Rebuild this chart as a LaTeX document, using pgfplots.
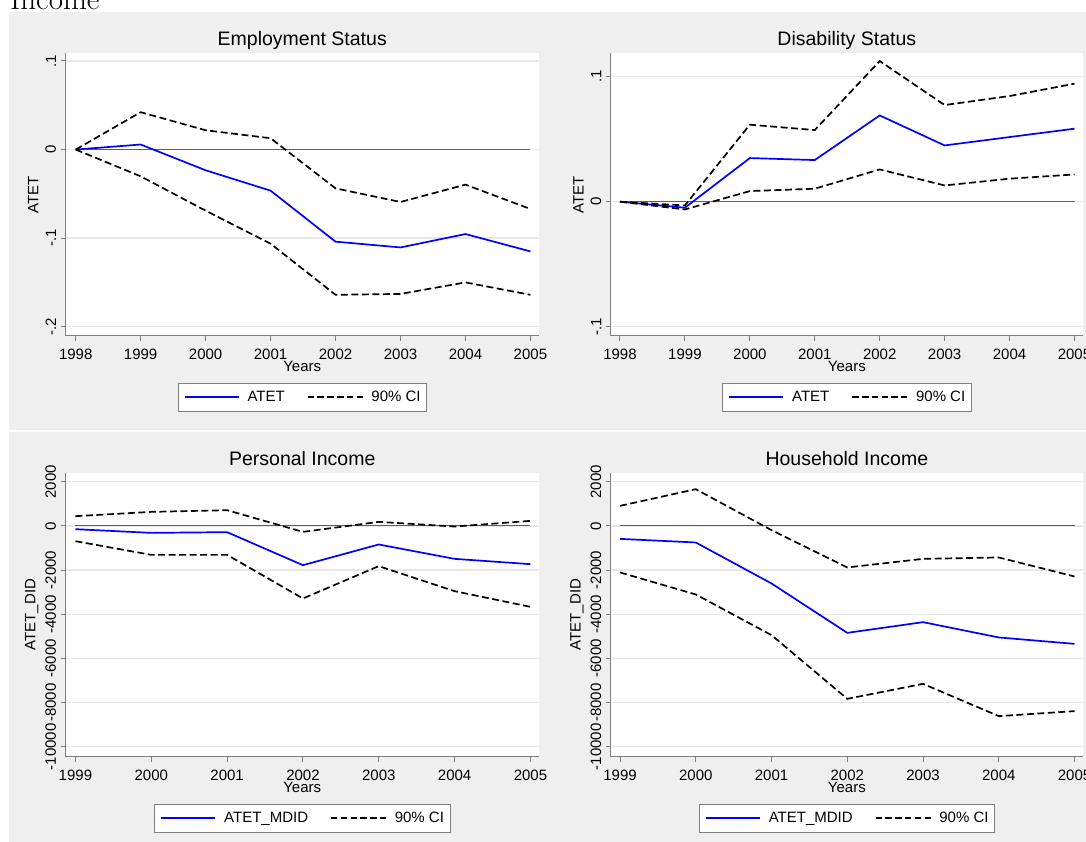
\documentclass[border=0pt]{standalone}
\usepackage{fontspec}
\usepackage{pgfplots}
\pgfplotsset{compat=1.18}
\newfontfamily\arial{Liberation Sans}
\definecolor{bggray}{RGB}{239,239,239}
\definecolor{axgray}{RGB}{128,128,128}
\definecolor{gridgray}{RGB}{232,232,232}
\definecolor{zerogray}{RGB}{95,95,95}
\definecolor{sblue}{RGB}{0,0,255}
\newcommand{\tickfont}{\arial\fontsize{15}{18}\selectfont}
\newcommand{\titlefont}{\arial\fontsize{19.5}{22}\selectfont}
\pgfplotsset{
  stata/.style={
    scale only axis,
    anchor=south west,
    axis background/.style={fill=white},
    axis x line*=bottom, axis y line*=left,
    axis line style={-, draw=axgray, line width=1pt},
    tick align=outside,
    major tick length=5pt,
    tick style={draw=axgray, line width=1pt},
    ymajorgrids,
    major grid style={draw=gridgray, line width=1.3pt},
    scaled y ticks=false, scaled x ticks=false,
    every tick label/.append style={font=\tickfont},
    yticklabel style={rotate=90, anchor=south, inner sep=0pt},
    yticklabel shift=4.2pt,
    xticklabel style={anchor=north, inner sep=0pt, yshift=-8pt},
    every axis title/.style={at={(axis description cs:0.5,1)}, anchor=base, inner sep=0pt, yshift=7.6pt, font=\titlefont},
    every axis x label/.style={at={(axis description cs:0.5,0)}, anchor=base, inner sep=0pt, yshift=-35.5pt, font=\tickfont},
    every axis y label/.style={at={(axis description cs:0,0.5)}, xshift=-27pt, rotate=90, anchor=south, inner sep=0pt, font=\tickfont},
    xlabel={Years},
    legend columns=2,
    legend style={at={(axis description cs:0.5,0)}, anchor=north, yshift=-47pt,
      draw=axgray, fill=white, inner xsep=6pt, inner ysep=8pt,
      font=\tickfont, nodes={inner sep=0pt},
      /tikz/every odd column/.append style={column sep=8pt},
      /tikz/every even column/.append style={column sep=22pt}},
  },
  est/.style={sblue, line width=1.7pt, solid,
    legend image code/.code={\draw[sblue, line width=1.7pt, solid] (0pt,0pt) -- (54pt,0pt);}},
  ci/.style={black, line width=1.7pt, dash pattern=on 7pt off 3.5pt,
    legend image code/.code={\draw[black, line width=1.7pt, dash pattern=on 6.5pt off 3.3pt] (0pt,0pt) -- (55pt,0pt);}},
  zl/.style={zerogray, line width=1pt, solid, forget plot},
}
\begin{document}
\begin{tikzpicture}[x=1pt,y=1pt]
\useasboundingbox (0,0) rectangle (1086,842);
\clip (0,0) rectangle (1086,842);
\fill[white] (0,0) rectangle (1086,842);
\fill[bggray] (8.5,412) rectangle (1086,830);
\fill[bggray] (8.5,0) rectangle (1086,410);
\node[anchor=base west, inner sep=0pt, font=\fontsize{31}{36}\selectfont] at (10,832) {Income};

% Panel 1: Employment Status
\begin{axis}[stata, at={(65.5pt,506pt)}, width=473.5pt, height=282.7pt,
  xmin=1997.843, xmax=2005.132, ymin=-0.2105, ymax=0.1087,
  xtick={1998,1999,2000,2001,2002,2003,2004,2005},
  xticklabels={1998,1999,2000,2001,2002,2003,2004,2005},
  ytick={-0.2,-0.1,0,0.1}, yticklabels={-.2,-.1,0,.1},
  title={Employment Status}, ylabel={ATET}]
\addplot[zl] coordinates {(1998,0) (2005,0)};
\addplot[est] coordinates {(1998,0) (1999,0.0057) (2000,-0.0234) (2001,-0.0464) (2002,-0.104) (2003,-0.1105) (2004,-0.0954) (2005,-0.115)};
\addlegendentry{ATET}
\addplot[ci] coordinates {(1998,0) (1999,0.0422) (2000,0.0218) (2001,0.0128) (2002,-0.0438) (2003,-0.0592) (2004,-0.0396) (2005,-0.0671)};
\addlegendentry{90\% CI}
\addplot[ci, forget plot] coordinates {(1998,0) (1999,-0.0302) (2000,-0.069) (2001,-0.1063) (2002,-0.164) (2003,-0.163) (2004,-0.150) (2005,-0.164)};
\end{axis}

% Panel 2: Disability Status
\begin{axis}[stata, at={(610.7pt,506pt)}, width=472.3pt, height=282.7pt,
  xmin=1997.857, xmax=2005.131, ymin=-0.1074, ymax=0.1187,
  xtick={1998,1999,2000,2001,2002,2003,2004,2005},
  xticklabels={1998,1999,2000,2001,2002,2003,2004,2005},
  ytick={-0.1,0,0.1}, yticklabels={-.1,0,.1},
  title={Disability Status}, ylabel={ATET}]
\addplot[zl] coordinates {(1998,0) (2005,0)};
\addplot[est] coordinates {(1998,0) (1999,-0.0048) (2000,0.0349) (2001,0.0333) (2002,0.069) (2003,0.045) (2004,0.0517) (2005,0.0584)};
\addlegendentry{ATET}
\addplot[ci] coordinates {(1998,0) (1999,-0.003) (2000,0.0616) (2001,0.0573) (2002,0.1125) (2003,0.0773) (2004,0.0845) (2005,0.0944)};
\addlegendentry{90\% CI}
\addplot[ci, forget plot] coordinates {(1998,0) (1999,-0.0062) (2000,0.0085) (2001,0.0104) (2002,0.0258) (2003,0.013) (2004,0.0184) (2005,0.0218)};
\end{axis}

% Panel 3: Personal Income
\begin{axis}[stata, at={(65.5pt,85.3pt)}, width=473.5pt, height=284pt,
  xmin=1998.869, xmax=2005.113, ymin=-10453, ymax=2408,
  xtick={1999,2000,2001,2002,2003,2004,2005},
  xticklabels={1999,2000,2001,2002,2003,2004,2005},
  ytick={-10000,-8000,-6000,-4000,-2000,0,2000},
  yticklabels={-10000,-8000,-6000,-4000,-2000,0,2000},
  title={Personal Income}, ylabel={ATET\_DID}]
\addplot[zl] coordinates {(1999,0) (2005,0)};
\addplot[est] coordinates {(1999,-150) (2000,-317) (2001,-285) (2002,-1780) (2003,-843) (2004,-1494) (2005,-1734)};
\addlegendentry{ATET\_MDID}
\addplot[ci] coordinates {(1999,439) (2000,634) (2001,710) (2002,-272) (2003,181) (2004,-30) (2005,226)};
\addlegendentry{90\% CI}
\addplot[ci, forget plot] coordinates {(1999,-693) (2000,-1313) (2001,-1313) (2002,-3288) (2003,-1825) (2004,-2957) (2005,-3667)};
\end{axis}

% Panel 4: Household Income
\begin{axis}[stata, at={(610.7pt,85.3pt)}, width=472.3pt, height=284pt,
  xmin=1998.877, xmax=2005.112, ymin=-10453, ymax=2408,
  xtick={1999,2000,2001,2002,2003,2004,2005},
  xticklabels={1999,2000,2001,2002,2003,2004,2005},
  ytick={-10000,-8000,-6000,-4000,-2000,0,2000},
  yticklabels={-10000,-8000,-6000,-4000,-2000,0,2000},
  title={Household Income}, ylabel={ATET\_DID}]
\addplot[zl] coordinates {(1999,0) (2005,0)};
\addplot[est] coordinates {(1999,-589) (2000,-752) (2001,-2608) (2002,-4845) (2003,-4360) (2004,-5053) (2005,-5343)};
\addlegendentry{ATET\_MDID}
\addplot[ci] coordinates {(1999,906) (2000,1662) (2001,-195) (2002,-1883) (2003,-1494) (2004,-1431) (2005,-2291)};
\addlegendentry{90\% CI}
\addplot[ci, forget plot] coordinates {(1999,-2110) (2000,-3106) (2001,-4949) (2002,-7833) (2003,-7154) (2004,-8616) (2005,-8390)};
\end{axis}
\end{tikzpicture}
\end{document}
